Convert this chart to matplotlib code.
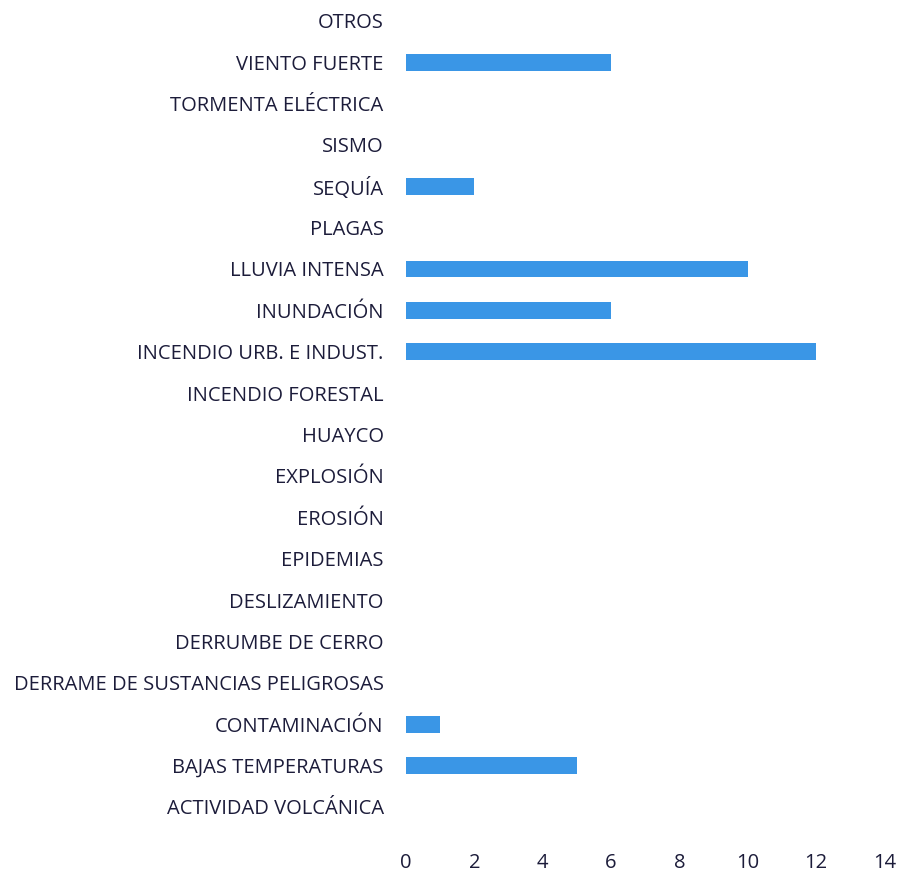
import matplotlib.pyplot as plt

categories = ['ACTIVIDAD VOLCÁNICA', 'BAJAS TEMPERATURAS', 'CONTAMINACIÓN',
              'DERRAME DE SUSTANCIAS PELIGROSAS', 'DERRUMBE DE CERRO',
              'DESLIZAMIENTO', 'EPIDEMIAS', 'EROSIÓN', 'EXPLOSIÓN', 'HUAYCO',
              'INCENDIO FORESTAL', 'INCENDIO URB. E INDUST.', 'INUNDACIÓN',
              'LLUVIA INTENSA', 'PLAGAS', 'SEQUÍA', 'SISMO',
              'TORMENTA ELÉCTRICA', 'VIENTO FUERTE', 'OTROS']
counts = [0, 5, 1, 0, 0, 0, 0, 0, 0, 0, 0, 12, 6, 10, 0, 2, 0, 0, 6, 0]
x_ticks = [0, 2, 4, 6, 8, 10, 12, 14]

plt.rcParams['font.family'] = ['Open Sans', 'DejaVu Sans']
text_color = '#1c1c3a'

fig = plt.figure(figsize=(8.98, 8.74), dpi=100)
ax = fig.add_axes([0.452, 0.053, 0.533, 0.947])

ax.barh(range(len(categories)), counts, height=0.41, color='#3a96e6')
ax.set_ylim(-0.5, len(categories) - 0.5)
ax.set_xlim(0, 14)
ax.set_yticks(range(len(categories)))
ax.set_yticklabels(categories, fontsize=14.5, color=text_color)
ax.set_xticks(x_ticks)
ax.set_xticklabels([str(t) for t in x_ticks], fontsize=14.5, color=text_color)
ax.tick_params(axis='y', length=0, pad=16)
ax.tick_params(axis='x', length=0, pad=18)

for side in ['top', 'right', 'bottom', 'left']:
    ax.spines[side].set_visible(False)

fig.savefig('out.png', dpi=100, facecolor='white')
